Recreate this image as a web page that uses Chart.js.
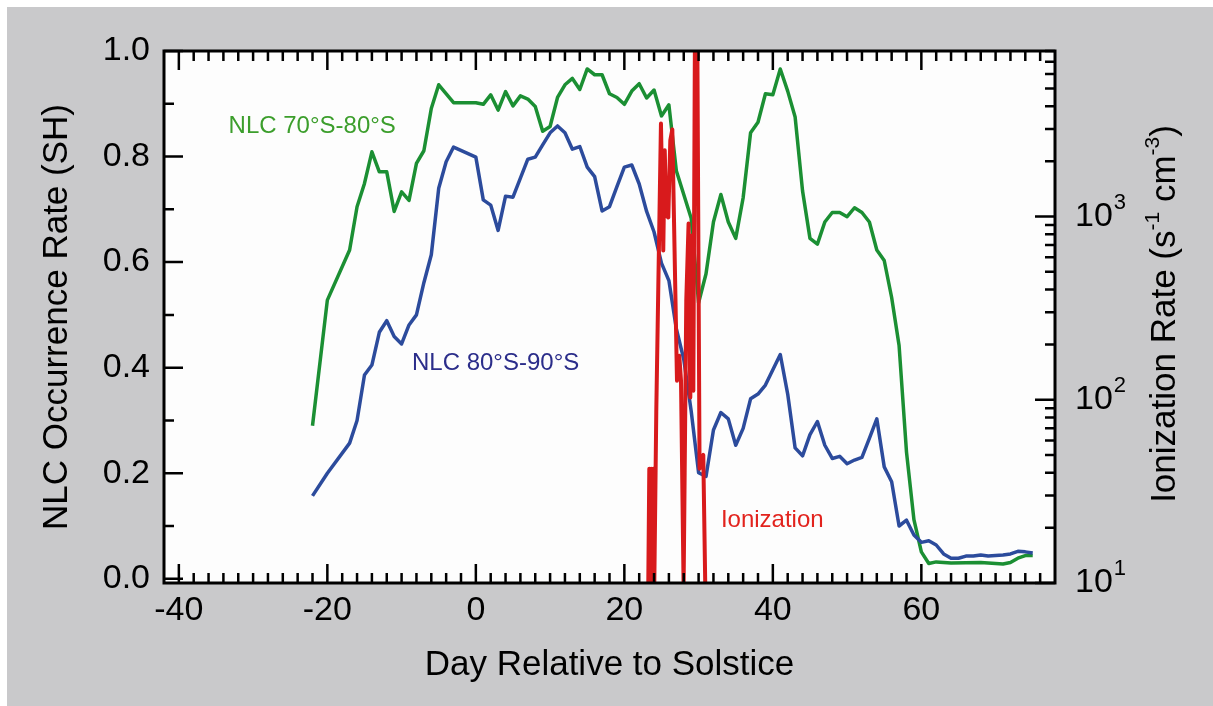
<!DOCTYPE html>
<html>
<head>
<meta charset="utf-8">
<script src="https://cdn.jsdelivr.net/npm/chart.js@4.4.1/dist/chart.umd.min.js"></script>
<style>
  html, body { margin: 0; padding: 0; background: #fff; }
  canvas { display: block; }
</style>
</head>
<body>
<canvas id="nlcChart" width="1213" height="706"></canvas>
<script>
// NLC occurrence rate (SH) and ionization rate vs day relative to solstice
const greenDays = [-22, -20, -17, -16, -15, -14, -13, -12, -11, -10, -9, -8, -7, -6, -5, -3, 0, 1, 2, 3, 4, 5, 6, 7, 8, 9, 10,
  11, 12, 13, 14, 15, 16, 17, 18, 19, 20, 21, 22, 23, 24, 25, 26, 27, 28, 29, 30, 31, 32, 33, 34, 35, 36, 37, 38, 39, 40,
  41, 42, 43, 44, 45, 46, 47, 48, 49, 50, 51, 52, 53, 54, 55, 56, 57, 58, 59, 60, 61, 62, 63, 64, 68, 70, 71, 72, 73, 74, 75];
const greenRates = [0.29, 0.528, 0.623, 0.705, 0.749, 0.809, 0.771, 0.771, 0.696, 0.733, 0.717, 0.787, 0.811, 0.891, 0.936, 0.902,
  0.902, 0.899, 0.917, 0.888, 0.923, 0.896, 0.915, 0.909, 0.895, 0.848, 0.857, 0.912, 0.936, 0.948, 0.927, 0.966, 0.955, 0.955,
  0.919, 0.912, 0.899, 0.924, 0.938, 0.911, 0.926, 0.877, 0.898, 0.773, 0.728, 0.683, 0.523, 0.578, 0.676, 0.728, 0.676, 0.645,
  0.722, 0.845, 0.865, 0.919, 0.917, 0.966, 0.924, 0.875, 0.735, 0.645, 0.634, 0.676, 0.694, 0.694, 0.686, 0.703, 0.694, 0.676,
  0.623, 0.603, 0.533, 0.442, 0.24, 0.112, 0.051, 0.029, 0.032, 0.031, 0.03, 0.031, 0.029, 0.028, 0.031, 0.039, 0.044, 0.044];

const blueDays = [-22, -20, -17, -16, -15, -14, -13, -12, -11, -10, -9, -8, -7, -6, -5, -4, -3, 0, 1, 2, 3, 4, 5, 6, 7, 8, 9, 10,
  11, 12, 13, 14, 15, 16, 17, 18, 19, 20, 21, 22, 23, 24, 25, 26, 27, 28, 29, 30, 31, 32, 33, 34, 35, 36, 37, 38, 39, 40,
  41, 42, 43, 44, 45, 46, 47, 48, 49, 50, 51, 52, 53, 54, 55, 56, 57, 58, 59, 60, 61, 62, 63, 64, 65, 66, 67, 68, 69, 70,
  71, 72, 73, 74, 75];
const blueRates = [0.157, 0.2, 0.257, 0.3, 0.386, 0.405, 0.467, 0.489, 0.459, 0.445, 0.481, 0.5, 0.561, 0.614, 0.74, 0.79, 0.818,
  0.799, 0.718, 0.708, 0.66, 0.725, 0.723, 0.759, 0.795, 0.799, 0.822, 0.845, 0.858, 0.845, 0.814, 0.819, 0.78, 0.762, 0.697,
  0.705, 0.743, 0.78, 0.784, 0.748, 0.696, 0.657, 0.598, 0.565, 0.474, 0.416, 0.318, 0.201, 0.194, 0.282, 0.315, 0.303, 0.253,
  0.285, 0.341, 0.35, 0.367, 0.396, 0.425, 0.35, 0.248, 0.233, 0.273, 0.298, 0.253, 0.228, 0.232, 0.218, 0.225, 0.23, 0.266,
  0.303, 0.212, 0.184, 0.1, 0.111, 0.083, 0.069, 0.072, 0.064, 0.047, 0.039, 0.039, 0.043, 0.043, 0.045, 0.043, 0.044, 0.045,
  0.047, 0.052, 0.051, 0.049];

const ionDays = [23.22, 23.36, 23.5, 23.62, 23.74, 23.89, 24.03, 24.3, 24.93, 25.24, 25.44, 25.65, 25.92, 26.19, 26.46, 27.09,
  27.4, 27.63, 27.98, 28.34, 28.65, 28.88, 29.08, 29.29, 29.56, 29.76, 30.13, 30.63, 30.9];
const ionRates = [9.5, 42, 9.5, 42, 9.5, 42, 9.5, 86, 3220, 652, 2296, 1012, 988, 2602, 2988, 127,
  174, 127, 9.5, 348, 916, 103, 787, 112, 30000, 30000, 42, 50, 9.5];

const dayTicks = [-40, -20, 0, 20, 40, 60];
const rateTicks = [0, 0.2, 0.4, 0.6, 0.8, 1.0];
const ionTicks = [10, 100, 1000];
const ionExponents = ["1", "2", "3"];

const FONT = "'Liberation Sans', Arial, Helvetica, sans-serif";

const seriesNotes = [
  { text: "NLC 70°S-80°S", day: -33.3, rate: 0.858, color: "#3c9e2c" },
  { text: "NLC 80°S-90°S", day: -8.6, rate: 0.409, color: "#2b2d8a" },
  { text: "Ionization", day: 33.0, rate: 0.111, color: "#e2231d" }
];

function pairs(xs, ys) {
  return xs.map((x, i) => ({ x: x, y: ys[i] }));
}

const frameAndTicks = {
  id: "frameAndTicks",
  beforeDraw(chart) {
    const { ctx, chartArea: a } = chart;
    ctx.save();
    ctx.fillStyle = "#fff";
    ctx.fillRect(0, 0, chart.width, chart.height);
    ctx.fillStyle = "#c9c9cb";
    ctx.fillRect(7, 7, chart.width - 7, chart.height - 7);
    ctx.fillStyle = "#fdfdfd";
    ctx.fillRect(a.left, a.top, a.right - a.left, a.bottom - a.top);
    ctx.restore();
  },
  afterDatasetsDraw(chart) {
    const { ctx, chartArea: a, scales } = chart;
    ctx.save();
    ctx.strokeStyle = "#000";
    ctx.lineWidth = 2.5;
    ctx.beginPath();
    // day ticks every 2 days, bottom and top
    for (let d = -40; d <= 76; d += 2) {
      const px = scales.x.getPixelForValue(d);
      const len = d % 20 === 0 ? 19 : 10;
      ctx.moveTo(px, a.bottom);
      ctx.lineTo(px, a.bottom - len);
      ctx.moveTo(px, a.top);
      ctx.lineTo(px, a.top + len);
    }
    // occurrence ticks every 0.1
    for (let i = 0; i <= 10; i++) {
      const py = scales.y.getPixelForValue(i / 10);
      const len = i % 2 === 0 ? 19 : 10;
      ctx.moveTo(a.left, py);
      ctx.lineTo(a.left + len, py);
    }
    // log ticks on the right
    for (let e = 1; e <= 3; e++) {
      for (let m = 1; m <= 9; m++) {
        const v = m * Math.pow(10, e);
        if (v > scales.y2.max) continue;
        const py = scales.y2.getPixelForValue(v);
        const len = m === 1 ? 20 : 10;
        ctx.moveTo(a.right, py);
        ctx.lineTo(a.right - len, py);
      }
    }
    ctx.stroke();
    ctx.lineWidth = 3;
    ctx.strokeRect(a.left, a.top, a.right - a.left, a.bottom - a.top);

    // right axis labels 10^n
    ctx.fillStyle = "#000";
    ctx.textAlign = "left";
    ctx.textBaseline = "middle";
    ionTicks.forEach((v, i) => {
      const py = scales.y2.getPixelForValue(v);
      const x0 = a.right + 20;
      ctx.font = "34px " + FONT;
      ctx.fillText("10", x0, py);
      const w = ctx.measureText("10").width;
      ctx.font = "22px " + FONT;
      ctx.fillText(ionExponents[i], x0 + w + 1, py - 14);
    });

    // right axis title with superscripts
    const parts = [
      { t: "Ionization Rate (s", size: 35, up: 0 },
      { t: "-1", size: 21, up: 12 },
      { t: " cm", size: 35, up: 0 },
      { t: "-3", size: 21, up: 12 },
      { t: ")", size: 35, up: 0 }
    ];
    let total = 0;
    parts.forEach(p => {
      ctx.font = p.size + "px " + FONT;
      p.w = ctx.measureText(p.t).width;
      total += p.w;
    });
    ctx.save();
    ctx.translate(1165, 314);
    ctx.rotate(-Math.PI / 2);
    let cx = -total / 2;
    parts.forEach(p => {
      ctx.font = p.size + "px " + FONT;
      ctx.fillText(p.t, cx, -p.up);
      cx += p.w;
    });
    ctx.restore();

    // in-plot series notes
    ctx.font = "24px " + FONT;
    seriesNotes.forEach(n => {
      ctx.fillStyle = n.color;
      ctx.fillText(n.text, scales.x.getPixelForValue(n.day), scales.y.getPixelForValue(n.rate));
    });
    ctx.restore();
  }
};

new Chart(document.getElementById("nlcChart").getContext("2d"), {
  type: "line",
  data: {
    datasets: [
      {
        label: "Ionization",
        data: pairs(ionDays, ionRates),
        yAxisID: "y2",
        borderColor: "#d81a1c",
        borderWidth: 4
      },
      {
        label: "NLC 80°S-90°S",
        data: pairs(blueDays, blueRates),
        yAxisID: "y",
        borderColor: "#2c4b9c",
        borderWidth: 3.5
      },
      {
        label: "NLC 70°S-80°S",
        data: pairs(greenDays, greenRates),
        yAxisID: "y",
        borderColor: "#1b8f33",
        borderWidth: 3.5
      }
    ]
  },
  options: {
    responsive: false,
    animation: false,
    events: [],
    elements: {
      point: { radius: 0 },
      line: { tension: 0, borderJoinStyle: "round" }
    },
    layout: { padding: { top: 51, left: 0, right: 0, bottom: 0 } },
    plugins: { legend: { display: false }, tooltip: { enabled: false } },
    scales: {
      x: {
        type: "linear",
        position: "bottom",
        min: -42,
        max: 78,
        afterBuildTicks: s => { s.ticks = dayTicks.map(v => ({ value: v })); },
        afterFit: s => { s.height = 123; },
        grid: { display: false, drawTicks: false },
        border: { display: false },
        ticks: { color: "#000", font: { size: 34, family: FONT }, padding: 7, maxRotation: 0, autoSkip: false },
        title: {
          display: true,
          text: "Day Relative to Solstice",
          color: "#000",
          font: { size: 35, family: FONT },
          padding: { top: 0, bottom: 20 }
        }
      },
      y: {
        type: "linear",
        position: "left",
        min: -0.008,
        max: 1.0,
        afterBuildTicks: s => { s.ticks = rateTicks.map(v => ({ value: v })); },
        afterFit: s => { s.width = 164; },
        grid: { display: false, drawTicks: false },
        border: { display: false },
        ticks: { color: "#000", font: { size: 34, family: FONT }, padding: 14, callback: v => v.toFixed(1) },
        title: {
          display: true,
          text: "NLC Occurrence Rate (SH)",
          color: "#000",
          font: { size: 35, family: FONT },
          padding: { top: 36, bottom: 0 }
        }
      },
      y2: {
        type: "logarithmic",
        position: "right",
        min: 10,
        max: 8000,
        afterFit: s => { s.width = 158; },
        grid: { display: false, drawTicks: false },
        border: { display: false },
        ticks: { display: false }
      }
    }
  },
  plugins: [frameAndTicks]
});
</script>
</body>
</html>
